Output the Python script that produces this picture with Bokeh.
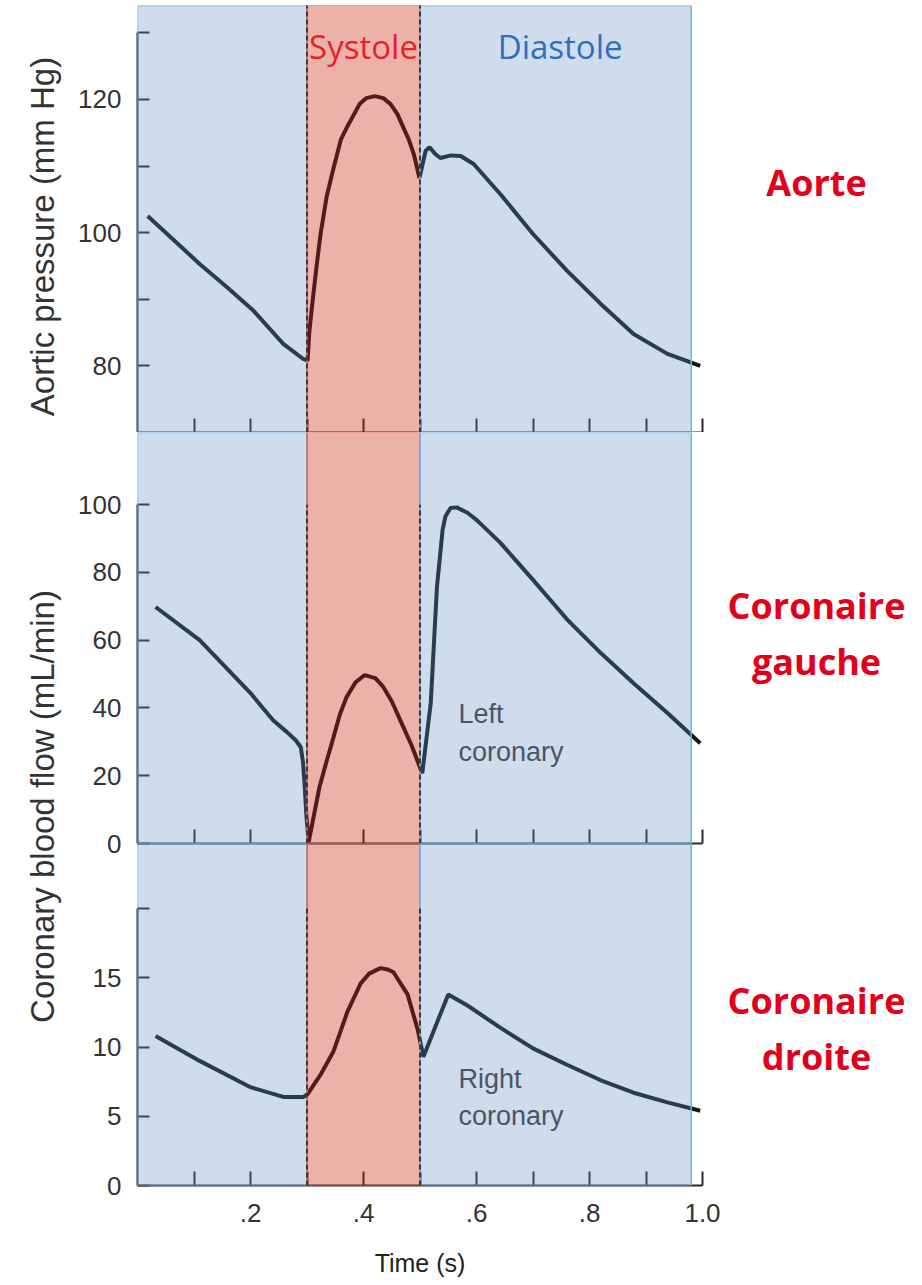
import math
from bokeh.plotting import figure
from bokeh.models import (Range1d, LinearAxis, FixedTicker, CustomJSTickFormatter,
                          BoxAnnotation, Label)
from bokeh.layouts import row, column
from bokeh.embed import file_html
from bokeh.resources import INLINE

# ---------------- data ----------------
# cardiac phases (time in s)
phase_names = ["", "Systole", "Diastole"]
phase_start = [0.0, 0.30, 0.50]
phase_end = [0.30, 0.50, 0.98]
phase_kind = ["dia", "sys", "dia"]

# aortic pressure (mm Hg)
aorta_t = [0.018, 0.11, 0.16, 0.205, 0.258, 0.294, 0.301, 0.304, 0.31, 0.317, 0.324, 0.335,
           0.347, 0.36, 0.37, 0.393, 0.405, 0.42, 0.435, 0.448, 0.46, 0.471, 0.48, 0.489,
           0.499, 0.51, 0.517, 0.527, 0.536, 0.555, 0.572, 0.595, 0.642, 0.70, 0.76,
           0.82, 0.878, 0.938, 0.996]
aorta_p = [102.5, 95.3, 91.7, 88.3, 83.3, 81.0, 80.8, 85.0, 89.8, 95.0, 99.8, 105.5,
           109.7, 114.0, 115.7, 119.3, 120.2, 120.5, 120.2, 119.3, 117.8, 115.7, 114.0, 111.8,
           108.2, 112.3, 112.8, 111.8, 111.2, 111.6, 111.5, 110.3, 105.8, 99.8, 94.3,
           89.3, 84.8, 81.8, 80.0]

# left coronary blood flow (mL/min)
left_t = [0.032, 0.11, 0.2, 0.24, 0.265, 0.28, 0.289, 0.293, 0.296, 0.299, 0.303, 0.322,
          0.335, 0.347, 0.358, 0.37, 0.386, 0.402, 0.421, 0.435, 0.45, 0.465, 0.485,
          0.504, 0.519, 0.53, 0.54, 0.545, 0.554, 0.565, 0.584, 0.6, 0.642, 0.67, 0.70,
          0.73, 0.761, 0.82, 0.878, 0.938, 0.996]
left_f = [69.8, 60.0, 44.4, 36.4, 32.8, 30.5, 28.4, 24.0, 16.6, 8.0, 0.5, 16.6,
          24.5, 31.4, 38.0, 43.2, 47.6, 49.7, 48.8, 46.2, 42.0, 36.4, 29.0,
          20.7, 41.4, 75.7, 92.6, 96.5, 99.0, 99.2, 97.6, 95.5, 88.8, 83.5, 77.8,
          72.0, 66.0, 56.2, 47.3, 38.5, 29.6]

# right coronary blood flow (mL/min)
right_t = [0.032, 0.11, 0.2, 0.258, 0.294, 0.301, 0.324, 0.347, 0.372, 0.395, 0.41, 0.43,
           0.443, 0.453, 0.478, 0.496, 0.506, 0.55, 0.584, 0.642, 0.70, 0.761, 0.82,
           0.878, 0.938, 0.996]
right_f = [10.8, 9.0, 7.1, 6.4, 6.4, 6.6, 8.0, 9.7, 12.6, 14.6, 15.3, 15.7,
           15.6, 15.4, 13.8, 11.25, 9.3, 13.8, 13.0, 11.4, 9.9, 8.7, 7.6,
           6.7, 6.0, 5.4]

x_major = [0.2, 0.4, 0.6, 0.8, 1.0]
x_minor = [0.1, 0.3, 0.5, 0.7, 0.9]
aorta_major = [80, 100, 120]
aorta_minor = [90, 110, 130]
left_major = [0, 20, 40, 60, 80, 100]
right_major = [0, 5, 10, 15]
right_minor = [20]

# ---------------- style ----------------
FONT = "Liberation Sans"
AX = "#2a2a2a"
LINE = "#121a24"
TICK_FS = "26px"
BLUE_FILL, BLUE_EDGE = "#5f8cbe", "#74b0ea"
RED_FILL, RED_EDGE = "#c82308", "#e05a50"
RED_TXT = "#e3001b"

x_range = Range1d(0, 1.0)
PW = 654          # panel canvas width
OVER = 16         # overlap between middle and bottom canvases
H1, H2, H3 = 432, 411 + OVER, 440
TOTAL = H1 + H2 - OVER + H3


def make_panel(height, yr, mbb, mbt=0):
    p = figure(width=PW, height=height, x_range=x_range, y_range=Range1d(*yr),
               output_backend="svg", toolbar_location=None,
               x_axis_type=None, y_axis_type=None,
               min_border_left=69, min_border_right=20,
               min_border_top=mbt, min_border_bottom=mbb)
    p.outline_line_color = None
    p.background_fill_color = "white"
    p.border_fill_color = "white"
    return p


def style_axis(ax):
    ax.axis_line_color = AX
    ax.axis_line_width = 2
    ax.major_tick_line_color = AX
    ax.minor_tick_line_color = AX
    ax.major_tick_line_width = 2
    ax.minor_tick_line_width = 2
    ax.major_tick_out = 0
    ax.minor_tick_out = 0
    ax.major_label_text_font = FONT
    ax.major_label_text_font_size = TICK_FS
    ax.major_label_text_color = "#333333"


def add_y(p, major, minor, bounds):
    ax = LinearAxis(ticker=FixedTicker(ticks=major, minor_ticks=minor), bounds=bounds)
    style_axis(ax)
    ax.major_tick_in = 12
    ax.minor_tick_in = 12
    ax.major_label_standoff = 16
    p.add_layout(ax, "left")


def add_x(p, labels):
    ax = LinearAxis(ticker=FixedTicker(ticks=x_major, minor_ticks=x_minor))
    style_axis(ax)
    ax.major_tick_in = 14
    ax.minor_tick_in = 14
    if labels:
        ax.formatter = CustomJSTickFormatter(
            code="return tick >= 1 ? tick.toFixed(1) : tick.toFixed(1).slice(1);")
        ax.major_label_standoff = 18
        ax.axis_label = "Time (s)"
        ax.axis_label_text_font = FONT
        ax.axis_label_text_font_style = "normal"
        ax.axis_label_text_font_size = "25px"
        ax.axis_label_text_color = "#222222"
        ax.axis_label_standoff = 24
    else:
        ax.formatter = CustomJSTickFormatter(code="return '';")
        ax.major_label_text_font_size = "0px"
        ax.major_label_standoff = 0
    p.add_layout(ax, "below")


def add_phases(p, y0, y1):
    for s, e, k in zip(phase_start, phase_end, phase_kind):
        if k == "sys":
            b = BoxAnnotation(left=s, right=e, fill_color=RED_FILL, fill_alpha=0.35,
                              line_color=RED_EDGE, line_width=1.2, line_alpha=1.0)
        else:
            b = BoxAnnotation(left=s, right=e, fill_color=BLUE_FILL, fill_alpha=0.30,
                              line_color=BLUE_EDGE, line_width=1.5, line_alpha=1.0)
        p.add_layout(b)
    bounds_x = [phase_end[0], phase_end[1]]
    p.segment(x0=bounds_x, y0=[y0] * 2, x1=bounds_x, y1=[y1] * 2,
              line_color="#3a3a3a", line_width=2, line_dash="5 3", level="overlay")


def inner_label(p, x, y, text):
    p.add_layout(Label(x=x, y=y, text=text, text_align="left", text_baseline="top",
                       text_font=FONT, text_font_size="27px", text_color="#4a5566",
                       text_line_height=1.25))


# ---------------- top panel: aortic pressure ----------------
p1 = make_panel(H1, (70, 134.1), 0, 5)
add_y(p1, aorta_major, aorta_minor, (70, 130))
add_x(p1, False)
p1.line(aorta_t, aorta_p, line_color=LINE, line_width=4)
add_phases(p1, 70, 134.1)
for s, e, n, k in zip(phase_start, phase_end, phase_names, phase_kind):
    if n:
        p1.add_layout(Label(x=(s + e) / 2 + (0.008 if k == "dia" else 0), y=128.0, text=n,
                            text_align="center", text_baseline="middle",
                            text_font="Open Sans", text_font_size="33px",
                            text_color="#e8202a" if k == "sys" else "#2f6fc0"))

# ---------------- middle panel: left coronary ----------------
p2 = make_panel(H2, (0, 121.3), OVER)
add_y(p2, left_major, [], (0, 100))
add_x(p2, False)
p2.line(left_t, left_f, line_color=LINE, line_width=4)
add_phases(p2, 0, 100)
inner_label(p2, 0.568, 42.5, "Left\ncoronary")

# ---------------- bottom panel: right coronary ----------------
p3 = make_panel(H3, (0, 24.7), H3 - 342)
p3.border_fill_alpha = 0
p3.background_fill_alpha = 0
p3.margin = (-OVER, 0, 0, 0)
add_y(p3, right_major, right_minor, (0, 20))
add_x(p3, True)
p3.line(right_t, right_f, line_color=LINE, line_width=4)
add_phases(p3, 0, 20)
inner_label(p3, 0.568, 8.8, "Right\ncoronary")


# ---------------- rotated y-axis titles ----------------
def text_fig(w, h):
    f = figure(width=w, height=h, x_range=Range1d(0, w), y_range=Range1d(0, h),
               output_backend="svg", toolbar_location=None,
               x_axis_type=None, y_axis_type=None, min_border=0)
    f.outline_line_color = None
    return f


lab1 = text_fig(68, H1)
lab1.add_layout(Label(x=42, y=H1 - 236, text="Aortic pressure (mm Hg)", angle=math.pi / 2,
                      text_align="center", text_baseline="middle", text_font=FONT,
                      text_font_size="33px", text_color="#333333"))
lab2 = text_fig(68, TOTAL - H1)
lab2.add_layout(Label(x=42, y=TOTAL - 806, text="Coronary blood flow (mL/min)",
                      angle=math.pi / 2, text_align="center", text_baseline="middle",
                      text_font=FONT, text_font_size="33px", text_color="#333333"))

# ---------------- red side titles ----------------
SW = 198
side = text_fig(SW, TOTAL)
for txt, yc in [("Aorte", 182), ("Coronaire\ngauche", 633), ("Coronaire\ndroite", 1028)]:
    side.add_layout(Label(x=94, y=TOTAL - yc, text=txt, text_align="center",
                          text_baseline="middle", text_font="Open Sans",
                          text_font_style="bold", text_font_size="36px",
                          text_color=RED_TXT, text_line_height=1.15))

layout = row(column(lab1, lab2), column(p1, p2, p3), side)

open("out.html", "w").write(file_html(layout, INLINE))
